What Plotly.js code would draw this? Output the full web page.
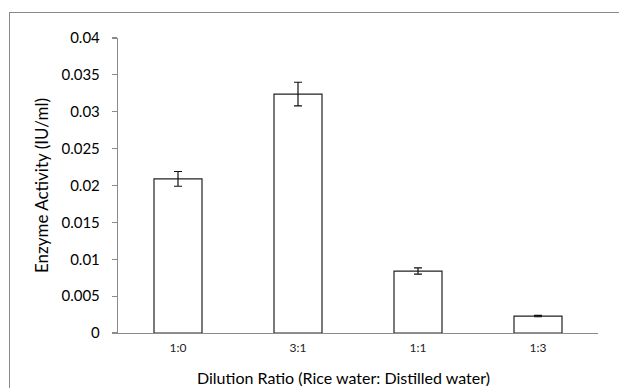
<!DOCTYPE html>
<html>
<head>
<meta charset="utf-8">
<script src="https://cdn.plot.ly/plotly-3.0.1.min.js"></script>
<style>
  html, body { margin: 0; padding: 0; background: #fff; overflow: hidden; }
  #wrap { position: relative; width: 619px; height: 388px; overflow: hidden; }
  #frame { position: absolute; left: 9px; top: 12px; width: 640px; height: 420px; border: 1.5px solid #8a8a8a; box-sizing: border-box; pointer-events: none; }
  #chart { position: absolute; left: 0; top: 0; width: 619px; height: 388px; }
</style>
</head>
<body>
<div id="wrap">
  <div id="chart"></div>
  <div id="frame"></div>
</div>
<script>
const categories = ["1:0", "3:1", "1:1", "1:3"];
const activity = [0.0209, 0.0324, 0.0084, 0.0023];
const errors = [0.0010, 0.0016, 0.00043, 0.0001];
const yTickVals = [0, 0.005, 0.01, 0.015, 0.02, 0.025, 0.03, 0.035, 0.04];
const yTickText = ["0", "0.005", "0.01", "0.015", "0.02", "0.025", "0.03", "0.035", "0.04"];
const xTitle = "Dilution Ratio (Rice water: Distilled water)";
const yTitle = "Enzyme Activity (IU/ml)";

const trace = {
  type: "bar",
  x: categories,
  y: activity,
  marker: { color: "#ffffff", line: { color: "#222222", width: 1.2 } },
  error_y: { type: "data", array: errors, visible: true, color: "#111111", thickness: 1.2, width: 4 },
  hoverinfo: "none"
};

const layout = {
  width: 619, height: 388,
  margin: { l: 118, r: 21, t: 38, b: 55 },
  paper_bgcolor: "rgba(0,0,0,0)",
  plot_bgcolor: "#ffffff",
  bargap: 0.6,
  showlegend: false,
  font: { family: "Lato, 'Open Sans', sans-serif", color: "#000" },
  xaxis: {
    type: "category",
    showline: true, linecolor: "#8a8a8a", linewidth: 1.2,
    ticks: "", showgrid: false, zeroline: false,
    tickfont: { size: 12, family: "Lato, sans-serif", color: "#222" },
    ticklabelstandoff: 3
  },
  yaxis: {
    range: [0, 0.04],
    tickmode: "array", tickvals: yTickVals, ticktext: yTickText,
    showline: true, linecolor: "#8a8a8a", linewidth: 1.2,
    ticks: "outside", ticklen: 5, tickcolor: "#8a8a8a", tickwidth: 1.2,
    ticklabelstandoff: 9,
    showgrid: false, zeroline: false,
    tickfont: { size: 15, family: "Lato, sans-serif", color: "#000" },
    title: { text: yTitle, font: { size: 17, family: "Lato, sans-serif", color: "#000" }, standoff: 8 }
  },
  annotations: [{
    text: xTitle, xref: "paper", yref: "paper",
    x: (343 - 118) / 480, y: 0, yshift: -44,
    xanchor: "center", yanchor: "middle", showarrow: false,
    font: { size: 16, family: "Lato, sans-serif", color: "#000" }
  }]
};

Plotly.newPlot("chart", [trace], layout, { displayModeBar: false, staticPlot: true });
</script>
</body>
</html>
